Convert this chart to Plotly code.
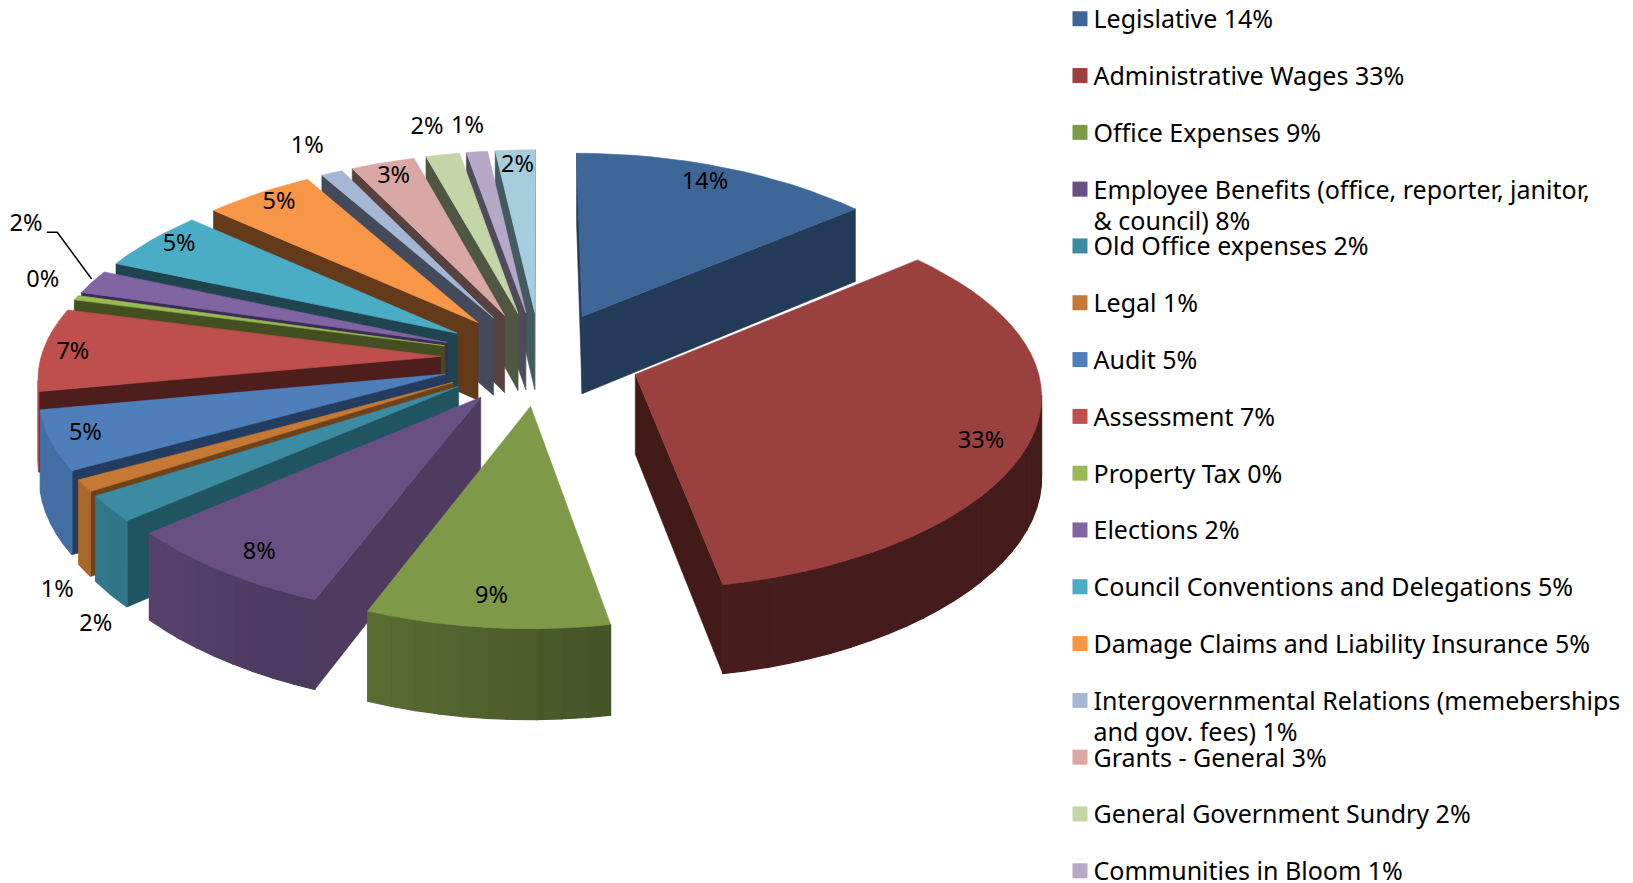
import math
import plotly.graph_objects as go

# ---- data ----
categories = ["Legislative", "Administrative Wages", "Office Expenses",
              "Employee Benefits (office, reporter, janitor,<br>& council)", "Old Office expenses", "Legal", "Audit",
              "Assessment", "Property Tax", "Elections", "Council Conventions and Delegations",
              "Damage Claims and Liability Insurance",
              "Intergovernmental Relations (memeberships<br>and gov. fees)", "Grants - General",
              "General Government Sundry", "Communities in Bloom", "Other"]
values = [14.0, 33.0, 9.0, 7.8, 2.2, 1.0, 5.0, 7.0, 0.4, 2.0, 5.0, 5.0, 1.0, 3.0, 1.6, 1.0, 1.9]
labels = ["14%", "33%", "9%", "8%", "2%", "1%", "5%", "7%", "0%", "2%", "5%", "5%", "1%", "3%", "2%", "1%", "2%"]
legend_count = 16

# ---- style ----
top_colors = ["#3E6797", "#9A403E", "#7E9A48", "#695083", "#3B8CA3", "#C57934", "#4E7FBB", "#BE4F4D",
              "#98B954", "#8065A2", "#4BACC6", "#F79646", "#A6B7D5", "#D8A7A6", "#C4D5A8", "#B5A9C7", "#A5CDDC"]
wall_colors = ["#233A58", "#421A18", "#414F21", "#4F3B60", "#215461", "#6E421A", "#243C5F", "#4E1E1C",
               "#434F20", "#3C2B55", "#1F4450", "#633A1A", "#434B5A", "#574240", "#4F5742", "#4F4B5B", "#445A62"]
label_x = [677, 942, 472, 249, 92, 55, 82, 70, 41, 25, 172, 268, 295, 378, 410, 449, 497]
label_y = [176, 425, 573, 531, 600, 568, 417, 339, 270, 216, 235, 195, 141, 170, 123, 122, 160]
leader_x = [45, 55, 88]
leader_y = [223, 223, 268]

# ---- view model (in reference display units) ----
W, H_PX = 1568, 848
CX, CY = 519, 344
RX, RY = 384, 181
EXPLODE = 0.25
DEPTH = 76
K = 0.104
BOW = 0.03
FONT = "Noto Sans"


def project(x, y, z):
    p = 1 / (1 + K * y)
    return CX + RX * x * p * (1 - BOW * y * y), CY - RY * y * p + DEPTH * z * p


def shade(hex_color, f):
    r, g, b = [int(hex_color[i:i + 2], 16) for i in (1, 3, 5)]
    return "rgb(%d,%d,%d)" % (min(255, r * f), min(255, g * f), min(255, b * f))


def signed_area(pts):
    return sum(pts[i][0] * pts[(i + 1) % len(pts)][1] - pts[(i + 1) % len(pts)][0] * pts[i][1]
               for i in range(len(pts))) / 2


def poly(fig, pts, color, name="", width=0.6):
    xs = [p[0] for p in pts] + [pts[0][0]]
    ys = [p[1] for p in pts] + [pts[0][1]]
    fig.add_trace(go.Scatter(x=xs, y=ys, mode="lines", fill="toself", fillcolor=color,
                             line=dict(color=color, width=width), hoverinfo="skip" if not name else "text",
                             text=name, showlegend=False))


fig = go.Figure()
total = sum(values)
slices = []
cum = 0.0
for i, v in enumerate(values):
    a0 = cum / total * 2 * math.pi
    cum += v
    a1 = cum / total * 2 * math.pi
    slices.append((i, a0, a1, (a0 + a1) / 2))

for i, a0, a1, mid in sorted(slices, key=lambda s: -math.cos(s[3])):
    ox, oy = EXPLODE * math.sin(mid), EXPLODE * math.cos(mid)
    n = max(2, int((a1 - a0) / math.radians(3)))
    angles = [a0 + (a1 - a0) * j / n for j in range(n + 1)]
    rim = [(ox + math.sin(a), oy + math.cos(a)) for a in angles]
    apex = (ox, oy)

    # radial walls: keep only the ones that face the viewer
    for a_pt, outer in ((rim[0], True), (rim[-1], False)):
        q = [project(*apex, 0), project(*a_pt, 0), project(*a_pt, 1), project(*apex, 1)]
        area = signed_area(q)
        if (area < 0) == outer:
            poly(fig, q, wall_colors[i])
    # rim with gradient
    for j in range(n):
        (x0, y0), (x1, y1) = rim[j], rim[j + 1]
        q = [project(x0, y0, 0), project(x1, y1, 0), project(x1, y1, 1), project(x0, y0, 1)]
        if signed_area(q) > 0:
            continue
        a = (angles[j] + angles[j + 1]) / 2
        nx = math.sin(a)
        base = top_colors[i]
        f = 0.46 - 0.02 * nx if i == 1 else 0.6 - 0.3 * nx
        poly(fig, q, shade(base, f), width=1.2)
    # top
    top = [project(*apex, 0)] + [project(x, y, 0) for x, y in rim]
    poly(fig, top, top_colors[i], categories[i] + " " + labels[i])

# data labels
fig.add_trace(go.Scatter(x=label_x, y=label_y, mode="text", text=labels, textposition="middle center",
                         textfont=dict(family=FONT, size=23.5, color="#000000"), hoverinfo="skip", showlegend=False))
fig.add_trace(go.Scatter(x=leader_x, y=leader_y, mode="lines", line=dict(color="#000000", width=1.5),
                         hoverinfo="skip", showlegend=False))

# legend
LEG_TOP, LEG_STEP, LINE_STEP = 18, 54.55, 30
TEXT_DROP = 3
key_x, key_y, key_c, txt_x, txt_y, txt = [], [], [], [], [], []
for r in range(legend_count):
    y = LEG_TOP + LEG_STEP * r
    key_x.append(1037)
    key_y.append(y)
    key_c.append(top_colors[r])
    lines = (categories[r] + " " + labels[r]).split("<br>")
    for li, s in enumerate(lines):
        txt_x.append(1050)
        txt_y.append(y + TEXT_DROP + LINE_STEP * li)
        txt.append(s)
fig.add_trace(go.Scatter(x=key_x, y=key_y, mode="markers",
                         marker=dict(symbol="square", size=15, color=key_c, line=dict(width=0)),
                         hoverinfo="skip", showlegend=False))
fig.add_trace(go.Scatter(x=txt_x, y=txt_y, mode="text", text=txt, textposition="middle right",
                         cliponaxis=False,
                         textfont=dict(family=FONT, size=25, color="#000000"), hoverinfo="skip", showlegend=False))

fig.update_layout(width=1633, height=883, margin=dict(l=0, r=0, t=0, b=0),
                  paper_bgcolor="white", plot_bgcolor="white",
                  xaxis=dict(range=[0, W], visible=False, fixedrange=True),
                  yaxis=dict(range=[H_PX, 0], visible=False, fixedrange=True))
fig.write_html("out.html", config={"displayModeBar": False},
               post_script="document.body.style.margin='0';document.body.style.overflow='hidden';")
